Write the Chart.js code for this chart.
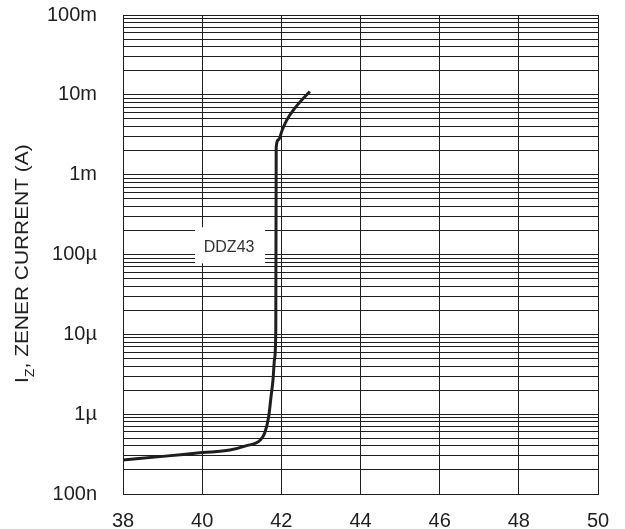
<!DOCTYPE html>
<html>
<head>
<meta charset="utf-8">
<script src="https://cdn.jsdelivr.net/npm/chart.js@4/dist/chart.umd.min.js"></script>
<style>
  html, body { margin: 0; padding: 0; background: #fff; }
  #wrap { width: 625px; height: 529px; }
</style>
</head>
<body>
<div id="wrap"><canvas id="zenerChart" width="625" height="529"></canvas></div>
<script>
// zener voltage (V) vs zener current (A)
var vz = [38, 39, 40, 40.7, 41.1, 41.47, 41.58, 41.68, 41.74, 41.79, 41.83, 41.86, 41.87, 41.93, 42.02, 42.14, 42.31, 42.52, 42.72];
var iz = [2.67e-7, 2.96e-7, 3.3e-7, 3.55e-7, 4.0e-7, 4.75e-7, 5.8e-7, 9.3e-7, 1.66e-6, 2.7e-6, 5e-6, 1.13e-5, 2.2e-3, 2.73e-3, 3.6e-3, 4.86e-3, 6.5e-3, 8.65e-3, 1.1e-2];

var xTicks = [38, 40, 42, 44, 46, 48, 50];
var yDecades = [1e-7, 1e-6, 1e-5, 1e-4, 1e-3, 1e-2, 1e-1];
var yTickLabels = ['100n', '1\u00b5', '10\u00b5', '100\u00b5', '1m', '10m', '100m'];

var seriesName = 'DDZ43';
var font = '"Liberation Sans", Arial, Helvetica, sans-serif';
var ink = '#1e1e1e';

(function () {
	"use strict";

	var points = vz.map(function (v, i) { return { x: v, y: iz[i] }; });

	// white box with the part number, placed in data coordinates
	var partLabel = {
		id: 'partLabel',
		afterDatasetsDraw: function (chart) {
			var c = chart.ctx;
			var px = chart.scales.x.getPixelForValue(40.68);
			var py = chart.scales.y.getPixelForValue(1.23e-4);
			c.save();
			c.fillStyle = '#fff';
			c.fillRect(px - 34, py - 20, 70, 36);
			c.fillStyle = '#333';
			c.font = '16px ' + font;
			c.textAlign = 'center';
			c.textBaseline = 'middle';
			c.fillText(seriesName, px, py);
			c.restore();
		}
	};

	// rotated axis title with the Z subscript
	var yTitle = {
		id: 'yTitle',
		afterDraw: function (chart) {
			var c = chart.ctx;
			c.save();
			c.translate(28, 383);
			c.rotate(-Math.PI / 2);
			c.scale(1.1, 1);
			c.fillStyle = ink;
			c.textBaseline = 'alphabetic';
			c.textAlign = 'left';
			c.font = '19px ' + font;
			c.fillText('I', 0, 0);
			var x = c.measureText('I').width;
			c.font = '13px ' + font;
			c.fillText('Z', x, 6);
			x += c.measureText('Z').width;
			c.font = '19px ' + font;
			c.fillText(', ZENER CURRENT (A)', x, 0);
			c.restore();
		}
	};

	var ctx = document.getElementById('zenerChart').getContext('2d');
	var myChart = new Chart(ctx, {
		type: 'line',
		data: {
			datasets: [{
				label: seriesName,
				data: points,
				borderColor: ink,
				borderWidth: 3,
				pointRadius: 0,
				fill: false,
				cubicInterpolationMode: 'monotone'
			}]
		},
		options: {
			responsive: false,
			animation: false,
			layout: { padding: { top: 15, right: 27, left: 0, bottom: 0 } },
			plugins: {
				legend: { display: false },
				tooltip: { enabled: false }
			},
			scales: {
				x: {
					type: 'linear',
					min: 38,
					max: 50,
					afterBuildTicks: function (scale) {
						scale.ticks = xTicks.map(function (v) { return { value: v }; });
					},
					afterFit: function (scale) { scale.height = 35; },
					// invisible tick marks keep the labels off the frame
					grid: { color: ink, lineWidth: 1, drawTicks: true, tickLength: 15, tickColor: 'rgba(0,0,0,0)' },
					border: { color: ink, width: 1 },
					ticks: {
						padding: 0,
						color: ink,
						font: { family: font, size: 20 },
						maxRotation: 0,
						autoSkip: false
					}
				},
				y: {
					type: 'logarithmic',
					min: 1e-7,
					max: 1e-1,
					afterBuildTicks: function (scale) {
						var t = [];
						for (var d = 0; d < yDecades.length - 1; d++) {
							for (var m = 1; m < 10; m++) {
								t.push({ value: yDecades[d] * m, major: m === 1 });
							}
						}
						t.push({ value: yDecades[yDecades.length - 1], major: true });
						scale.ticks = t;
					},
					afterFit: function (scale) { scale.width = 123; },
					grid: { color: ink, lineWidth: 1, drawTicks: true, tickLength: 26, tickColor: 'rgba(0,0,0,0)' },
					border: { color: ink, width: 1 },
					ticks: {
						padding: 0,
						color: ink,
						font: { family: font, size: 20 },
						autoSkip: false,
						callback: function (value) {
							for (var i = 0; i < yDecades.length; i++) {
								if (Math.abs(value / yDecades[i] - 1) < 1e-6) return yTickLabels[i];
							}
							return '';
						}
					}
				}
			}
		},
		plugins: [partLabel, yTitle]
	});
})();
</script>
</body>
</html>
